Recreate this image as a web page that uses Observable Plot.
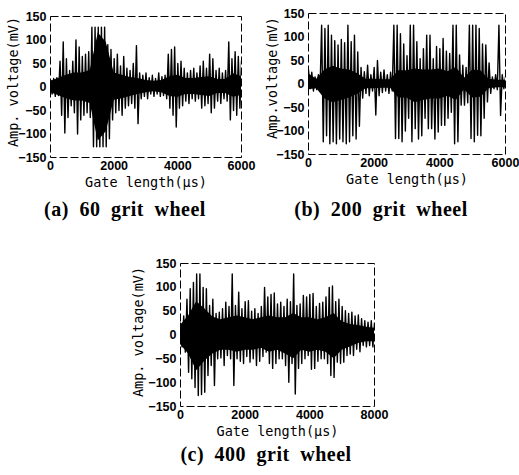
<!DOCTYPE html>
<html><head><meta charset="utf-8">
<script src="https://cdn.jsdelivr.net/npm/d3@7"></script>
<script src="https://cdn.jsdelivr.net/npm/@observablehq/plot@0.6"></script>
<style>
body{margin:0;background:#fff}
#wrap{position:relative;width:519px;height:475px;overflow:hidden;background:#fff}
.panel{position:absolute}
.cap{position:absolute;font-family:"Liberation Serif","Times New Roman",serif;font-weight:bold;font-size:20px;line-height:20px;white-space:pre;transform:translateX(-50%);word-spacing:5px;letter-spacing:0.5px;color:#000}
</style></head><body><div id="wrap"></div>
<script>
// ---- tick values and labels ----
const xTicks = [0, 2000, 4000, 6000];
const xLabelsAB = ["0", "2000", "4000", "6000"];
const xLabelsC = ["0", "2000", "4000", "8000"];
const yTicks = [-150, -100, -50, 0, 50, 100, 150];
const captions = ["(a) 60 grit wheel", "(b) 200 grit wheel", "(c) 400 grit wheel"];
const xTitle = "Gate length(μs)";
const yTitles = ["Amp. voltage(mV)", "Amp.voltage(mV)", "Amp. voltage(mV)"];

// ---- signal envelopes: peak values every 100 μs (0..6000) ----
const aHi = [15,18,20,55,96,60,35,55,100,85,65,70,75,127,127,127,127,127,90,80,60,70,45,65,40,35,50,88,30,25,30,20,25,18,30,22,25,70,80,85,50,55,40,30,35,40,30,45,55,40,70,60,35,40,30,35,96,60,75,65,55];
const aLo = [-15,-20,-18,-60,-98,-65,-40,-55,-100,-70,-60,-55,-65,-127,-127,-127,-127,-127,-110,-70,-55,-50,-60,-45,-40,-35,-45,-78,-25,-20,-25,-15,-20,-15,-20,-18,-25,-45,-60,-85,-45,-40,-30,-35,-25,-30,-25,-45,-40,-35,-55,-45,-30,-35,-25,-30,-70,-50,-60,-45,-35];
const bHi = [30,25,15,20,125,118,125,104,92,83,95,88,125,90,104,68,35,26,40,20,35,50,25,30,20,25,125,125,107,85,60,125,125,90,54,75,104,104,54,80,75,97,70,65,125,125,62,40,35,125,125,125,118,85,83,45,15,20,125,20,15];
const bLo = [-10,-15,-12,-15,-123,-110,-127,-123,-127,-117,-123,-127,-123,-110,-117,-90,-30,-20,-25,-15,-66,-25,-18,-15,-20,-15,-116,-116,-123,-100,-73,-123,-95,-117,-110,-73,-95,-95,-117,-102,-88,-88,-73,-60,-127,-123,-45,-45,-40,-116,-123,-109,-110,-73,-38,-20,-10,-12,-67,-10,-8];
const cHi = [25,40,75,97,110,128,128,100,97,62,75,45,48,55,69,60,128,62,90,55,70,72,50,55,45,60,100,80,85,88,65,69,60,75,70,128,62,65,83,80,85,87,60,66,69,80,100,103,70,75,60,51,45,48,40,42,34,30,27,30,25];
const cLo = [-25,-36,-78,-92,-110,-127,-125,-120,-85,-64,-106,-50,-48,-64,-43,-50,-106,-50,-55,-60,-45,-57,-50,-64,-55,-45,-36,-60,-70,-60,-50,-50,-64,-99,-60,-124,-70,-60,-50,-43,-72,-70,-55,-50,-50,-60,-85,-89,-57,-60,-57,-43,-40,-43,-30,-35,-22,-25,-22,-25,-20];

// ---- solid core band every 250 μs (0..6000) ----
const aCoreHi = [12,18,25,30,30,35,115,95,30,25,20,18,14,12,14,22,25,18,18,20,22,16,16,28,22];
const aCoreLo = [-12,-18,-25,-30,-30,-35,-115,-95,-28,-25,-20,-16,-12,-10,-12,-20,-22,-16,-16,-18,-20,-14,-14,-22,-18];
const bCoreHi = [22,10,30,38,32,30,22,10,10,9,9,28,28,32,30,30,32,26,35,12,30,28,10,8,8];
const bCoreLo = [-12,-10,-32,-40,-35,-30,-22,-10,-10,-9,-9,-30,-30,-40,-35,-32,-32,-26,-35,-12,-30,-28,-10,-8,-8];
const cCoreHi = [20,40,70,55,38,32,36,40,36,32,36,40,36,36,45,36,36,32,36,45,28,22,20,16,14];
const cCoreLo = [-20,-40,-75,-55,-40,-32,-32,-36,-32,-32,-28,-36,-32,-40,-50,-32,-36,-32,-36,-50,-32,-25,-18,-14,-14];

const SIG_STEP = 100, CORE_STEP = 250;
// oscillation: each 100 μs bin goes up to its peak, then down to its trough half a bin later
const toWave = (hi, lo) => hi.flatMap((h, i) => [{t: i * SIG_STEP, v: h}, {t: i * SIG_STEP + SIG_STEP / 2, v: lo[i]}]);
const toCore = (hi, lo) => hi.map((h, i) => ({t: i * CORE_STEP, hi: h, lo: lo[i]}));

const panels = [
  {wave: toWave(aHi, aLo), core: toCore(aCoreHi, aCoreLo), xl: xLabelsAB, yt: yTitles[0],
   left: 0, top: 0, width: 248, height: 192, ml: 50, mr: 7, mt: 16, mb: 35, ydx: -37, ydy: -5},
  {wave: toWave(bHi, bLo), core: toCore(bCoreHi, bCoreLo), xl: xLabelsAB, yt: yTitles[1],
   left: 260, top: 0, width: 259, height: 190, ml: 48, mr: 14, mt: 13, mb: 36, ydx: -36, ydy: -6},
  {wave: toWave(cHi, cLo), core: toCore(cCoreHi, cCoreLo), xl: xLabelsC, yt: yTitles[2],
   left: 125, top: 250, width: 255, height: 190, ml: 55, mr: 6, mt: 13, mb: 34, ydx: -42, ydy: -3}
];

const wrap = document.getElementById("wrap");
for (const p of panels) {
  const chart = Plot.plot({
    width: p.width, height: p.height,
    marginLeft: p.ml, marginRight: p.mr, marginTop: p.mt, marginBottom: p.mb,
    style: {fontFamily: "'Liberation Sans', Arial, sans-serif", fontWeight: "bold", fontSize: "12.5px", background: "transparent", overflow: "visible", color: "#000"},
    x: {domain: [0, 6000], ticks: xTicks, tickFormat: d => p.xl[xTicks.indexOf(d)], tickSize: 0, tickPadding: 4, label: null},
    y: {domain: [-150, 150], ticks: yTicks, tickSize: 0, tickPadding: 4, label: null},
    marks: [
      Plot.areaY(p.core, {x: "t", y1: "lo", y2: "hi", fill: "#000"}),
      Plot.line(p.wave, {x: "t", y: "v", stroke: "#000", strokeWidth: 1.4, clip: true}),
      Plot.frame({stroke: "#000", strokeWidth: 1, strokeDasharray: "8,3"}),
      Plot.text([xTitle], {frameAnchor: "bottom", dy: 29, text: d => d, lineAnchor: "bottom",
        fontFamily: "'DejaVu Sans Mono', monospace", fontWeight: "normal", fontSize: 13.5, fill: "#000"}),
      Plot.text([p.yt], {frameAnchor: "left", dx: p.ydx, dy: p.ydy, text: d => d, rotate: -90, textAnchor: "middle", lineAnchor: "middle",
        fontFamily: "'DejaVu Sans Mono', monospace", fontWeight: "normal", fontSize: 13.5, fill: "#000"})
    ]
  });
  chart.classList.add("panel");
  chart.style.left = p.left + "px";
  chart.style.top = p.top + "px";
  wrap.appendChild(chart);
}

const capPos = [[125, 199], [381, 199], [266, 444]];
captions.forEach((c, i) => {
  const d = document.createElement("div");
  d.className = "cap";
  d.textContent = c;
  d.style.left = capPos[i][0] + "px";
  d.style.top = capPos[i][1] + "px";
  wrap.appendChild(d);
});
</script></body></html>
